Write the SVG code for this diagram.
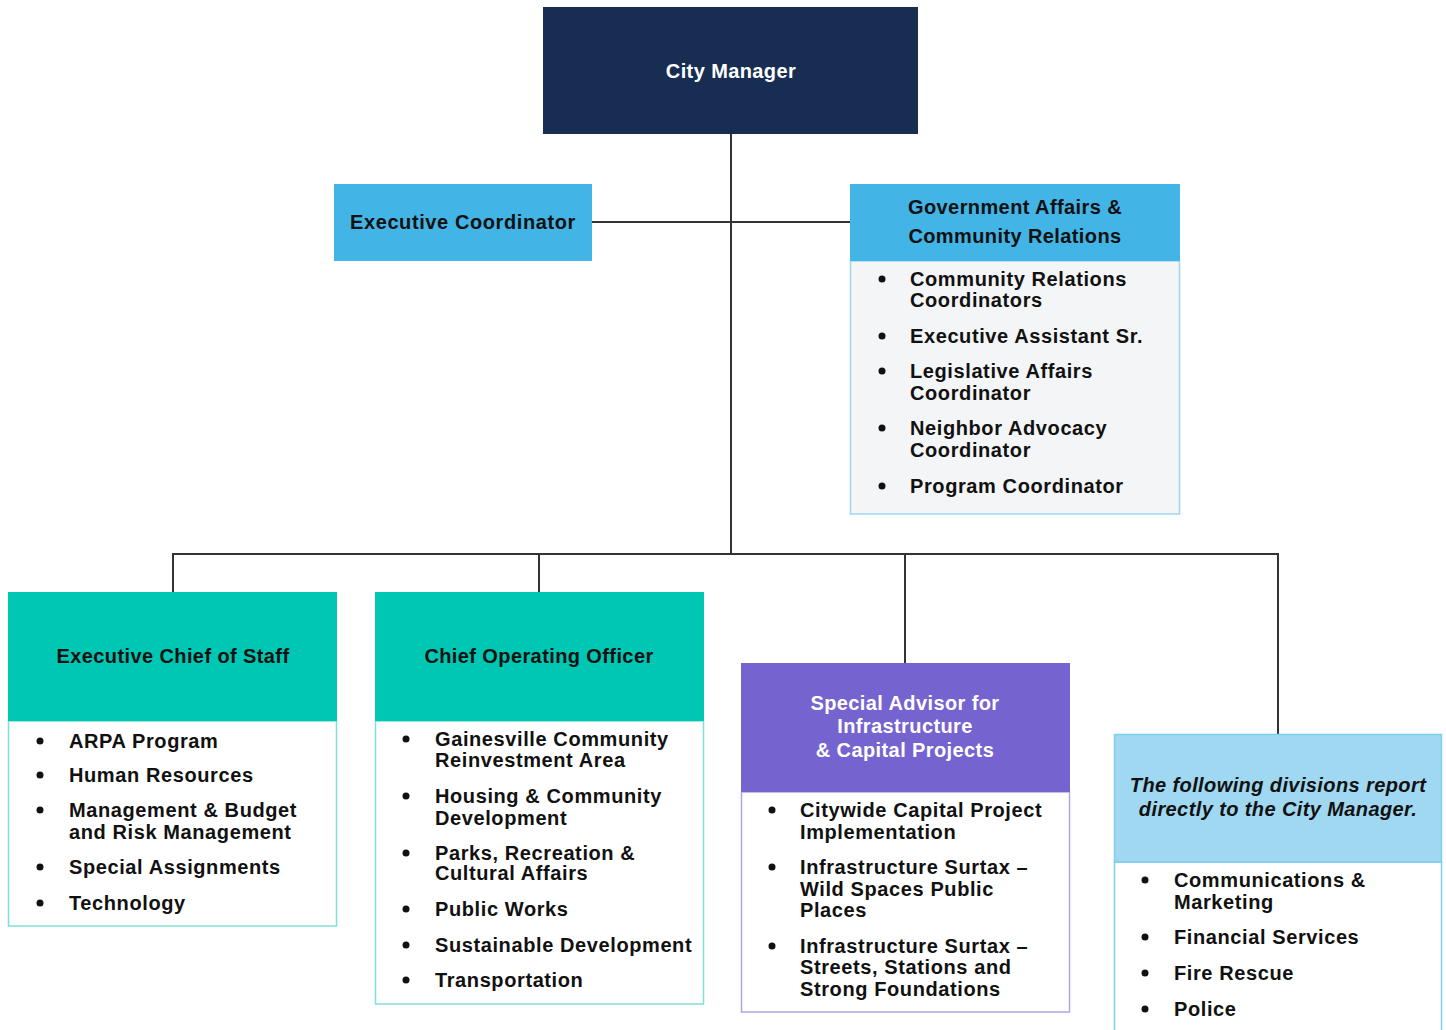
<svg xmlns="http://www.w3.org/2000/svg" width="1446" height="1030" viewBox="0 0 1446 1030">
<style>
text{font-family:"Liberation Sans",Arial,sans-serif;font-weight:bold;font-size:20px;fill:#111;letter-spacing:0.6px}
.w{fill:#fff}
.c{text-anchor:middle;letter-spacing:0.4px}
.it{font-style:italic}
.ln{stroke:#333;stroke-width:2;fill:none}
.b{fill:#111}
</style>
<rect width="1446" height="1030" fill="#fff"/>
<g id="connectors">
<path class="ln" d="M731 134V554"/>
<path class="ln" d="M592 222H850"/>
<path class="ln" d="M173 592V554H1278V734M539 554V592M905 554V663"/>
</g>
<g id="city-manager">
<rect x="543" y="7" width="375" height="127" fill="#182d52"/>
<text class="w c" x="731" y="78">City Manager</text>
</g>
<g id="executive-coordinator">
<rect x="334" y="184" width="258" height="77" fill="#42b4e5"/>
<text x="350" y="229">Executive Coordinator</text>
</g>
<g id="government-affairs">
<rect x="850.5" y="261" width="329" height="253" fill="#f4f5f7" stroke="#9ed6f0" stroke-width="1.5"/>
<rect x="850" y="184" width="330" height="77" fill="#42b4e5"/>
<text class="c" x="1015" y="214">Government Affairs &amp;</text>
<text class="c" x="1015" y="243">Community Relations</text>
<circle class="b" cx="882" cy="279" r="3.5"/><text x="910" y="286">Community Relations</text><text x="910" y="307">Coordinators</text>
<circle class="b" cx="882" cy="336" r="3.5"/><text x="910" y="343">Executive Assistant Sr.</text>
<circle class="b" cx="882" cy="371" r="3.5"/><text x="910" y="378">Legislative Affairs</text><text x="910" y="400">Coordinator</text>
<circle class="b" cx="882" cy="428" r="3.5"/><text x="910" y="435">Neighbor Advocacy</text><text x="910" y="457">Coordinator</text>
<circle class="b" cx="882" cy="486" r="3.5"/><text x="910" y="493">Program Coordinator</text>
</g>
<g id="executive-chief-of-staff">
<rect x="8.5" y="721" width="328" height="205" fill="#fff" stroke="#7ee0d6" stroke-width="1.5"/>
<rect x="8" y="592" width="329" height="129" fill="#00c7b3"/>
<text class="c" x="173" y="663">Executive Chief of Staff</text>
<circle class="b" cx="40" cy="741" r="3.5"/><text x="69" y="748">ARPA Program</text>
<circle class="b" cx="40" cy="775" r="3.5"/><text x="69" y="782">Human Resources</text>
<circle class="b" cx="40" cy="810" r="3.5"/><text x="69" y="817">Management &amp; Budget</text><text x="69" y="839">and Risk Management</text>
<circle class="b" cx="40" cy="867" r="3.5"/><text x="69" y="874">Special Assignments</text>
<circle class="b" cx="40" cy="903" r="3.5"/><text x="69" y="910">Technology</text>
</g>
<g id="chief-operating-officer">
<rect x="375.5" y="721" width="328" height="283" fill="#fff" stroke="#7ee0d6" stroke-width="1.5"/>
<rect x="375" y="592" width="329" height="129" fill="#00c7b3"/>
<text class="c" x="539" y="663">Chief Operating Officer</text>
<circle class="b" cx="406" cy="739" r="3.5"/><text x="435" y="746">Gainesville Community</text><text x="435" y="767">Reinvestment Area</text>
<circle class="b" cx="406" cy="796" r="3.5"/><text x="435" y="803">Housing &amp; Community</text><text x="435" y="825">Development</text>
<circle class="b" cx="406" cy="853" r="3.5"/><text x="435" y="860">Parks, Recreation &amp;</text><text x="435" y="880">Cultural Affairs</text>
<circle class="b" cx="406" cy="909" r="3.5"/><text x="435" y="916">Public Works</text>
<circle class="b" cx="406" cy="945" r="3.5"/><text x="435" y="952">Sustainable Development</text>
<circle class="b" cx="406" cy="980" r="3.5"/><text x="435" y="987">Transportation</text>
</g>
<g id="special-advisor">
<rect x="741.5" y="792" width="328" height="220" fill="#fff" stroke="#b0a5e6" stroke-width="1.5"/>
<rect x="741" y="663" width="329" height="129" fill="#7563cf"/>
<text class="w c" x="905" y="710">Special Advisor for</text>
<text class="w c" x="905" y="733">Infrastructure</text>
<text class="w c" x="905" y="757">&amp; Capital Projects</text>
<circle class="b" cx="772" cy="810" r="3.5"/><text x="800" y="817">Citywide Capital Project</text><text x="800" y="839">Implementation</text>
<circle class="b" cx="772" cy="867" r="3.5"/><text x="800" y="874">Infrastructure Surtax –</text><text x="800" y="896">Wild Spaces Public</text><text x="800" y="917">Places</text>
<circle class="b" cx="772" cy="946" r="3.5"/><text x="800" y="953">Infrastructure Surtax –</text><text x="800" y="974">Streets, Stations and</text><text x="800" y="996">Strong Foundations</text>
</g>
<g id="direct-report-divisions">
<rect x="1114.5" y="862" width="327" height="180" fill="#fff" stroke="#7fcdef" stroke-width="1.5"/>
<rect x="1114.5" y="734.5" width="327" height="127.5" fill="#a0d8f1" stroke="#7fcdef" stroke-width="1.5"/>
<text class="c it" x="1278" y="792">The following divisions report</text>
<text class="c it" x="1278" y="816">directly to the City Manager.</text>
<circle class="b" cx="1145" cy="880" r="3.5"/><text x="1174" y="887">Communications &amp;</text><text x="1174" y="909">Marketing</text>
<circle class="b" cx="1145" cy="937" r="3.5"/><text x="1174" y="944">Financial Services</text>
<circle class="b" cx="1145" cy="973" r="3.5"/><text x="1174" y="980">Fire Rescue</text>
<circle class="b" cx="1145" cy="1009" r="3.5"/><text x="1174" y="1016">Police</text>
</g>
</svg>
